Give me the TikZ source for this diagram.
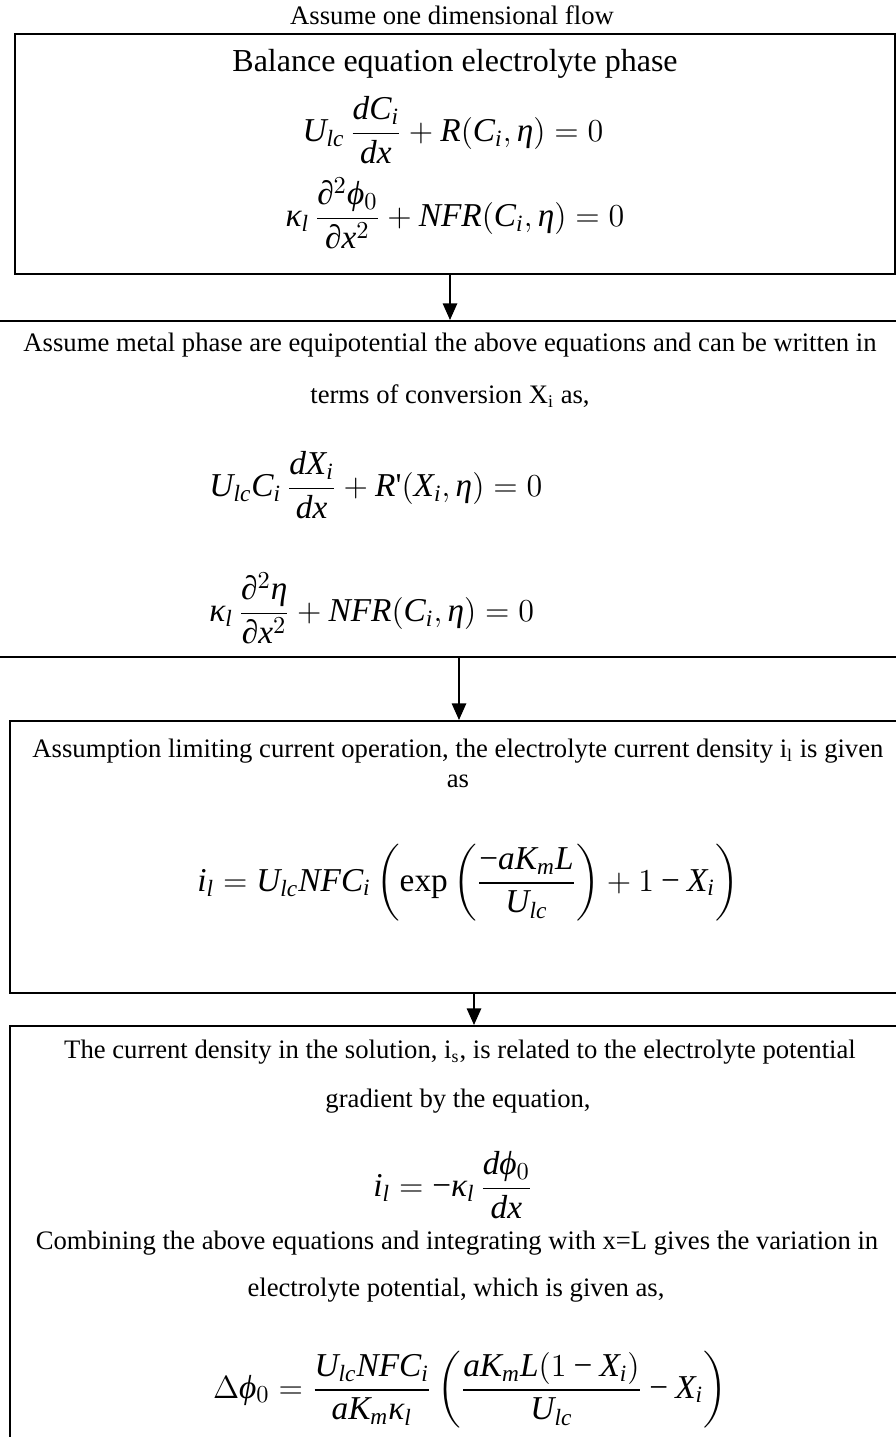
\documentclass[tikz,border=0pt]{standalone}
\usepackage{amsmath}
\usepackage{fontspec}
\setmainfont{Liberation Serif}
\usetikzlibrary{arrows.meta,positioning,calc}

% Times-like letters and digits in math
\ExplSyntaxOn
\fontspec_set_family:Nnn \l_tmpa_tl {} {Liberation~Serif}
\cs_new:Npn \mathfamdecl #1 {
  \DeclareSymbolFont{timesletters}{TU}{#1}{m}{it}
  \DeclareSymbolFont{timesupright}{TU}{#1}{m}{n}
}
\exp_args:NV \mathfamdecl \l_tmpa_tl
\ExplSyntaxOff
\makeatletter
\@tfor\@ltr:=abcdefghijklmnopqrstuvwxyzABCDEFGHIJKLMNOPQRSTUVWXYZ\do{%
  \edef\@tmpdecl{\noexpand\DeclareMathSymbol{\@ltr}{\noexpand\mathalpha}{timesletters}{`\@ltr}}%
  \@tmpdecl}
\@tfor\@ltr:=0123456789\do{%
  \edef\@tmpdecl{\noexpand\DeclareMathSymbol{\@ltr}{\noexpand\mathalpha}{timesupright}{`\@ltr}}%
  \@tmpdecl}
\makeatother
\DeclareMathSymbol{+}{\mathbin}{timesupright}{`+}
\DeclareMathSymbol{=}{\mathrel}{timesupright}{`=}
\Umathcode`-="2 \symtimesupright "2212
\Umathchardef\eta="0 \symtimesletters "03B7
\Umathchardef\kappa="0 \symtimesletters "03BA
\Umathchardef\phi="0 \symtimesletters "03D5
\Umathchardef\partial="0 \symtimesletters "2202
\Umathchardef\Delta="0 \symtimesupright "0394

\begin{document}
\begin{tikzpicture}[
  x=0.45pt, y=-0.45pt,
  >={Triangle[width=6.5pt,length=7.5pt]},
  every node/.style={font=\fontsize{12}{14}\selectfont, inner sep=0pt},
  box/.style={draw, line width=0.9pt, rectangle},
  eqn/.style={font=\fontsize{15}{17}\selectfont},
  arr/.style={->, line width=0.7pt}
]
\useasboundingbox (0,0) rectangle (896,1437);
\clip (0,0) rectangle (896,1437);

\node (flow) at (452,15) {Assume one dimensional flow};

% boxes
\node[box, minimum width=396pt, minimum height=108pt] (balance) at (455,154) {};
\node[box, minimum width=423pt, minimum height=151.2pt] (metal) at (448,489) {};
\node[box, minimum width=405pt, minimum height=122.4pt] (limit) at (460,857) {};
\node[box, minimum width=405pt, minimum height=195.3pt] (current) at (460,1243) {};

% balance equations
\node[font=\fontsize{14.4}{17}\selectfont] (balT) at (455,64) {Balance equation electrolyte phase};
\node[eqn] (balA) at (453,130) {$\displaystyle U_{lc}\,\frac{dC_i}{dx}+R(C_i,\eta)=0$};
\node[eqn] (balB) at (455,213) {$\displaystyle \kappa_l\,\frac{\partial^2\phi_0}{\partial x^2}+NFR(C_i,\eta)=0$};

% metal phase
\node (metT) at (450,345) {Assume metal phase are equipotential the above equations and can be written in};
\node (metU) at (450,396) {terms of conversion X\textsubscript{i} as,};
\node[eqn, anchor=west] (metA) at (209,485) {$\displaystyle U_{lc}C_i\,\frac{dX_i}{dx}+R\textrm{\textquotesingle}(X_i,\eta)=0$};
\node[eqn, anchor=west] (metB) at (209,608) {$\displaystyle \kappa_l\,\frac{\partial^2\eta}{\partial x^2}+NFR(C_i,\eta)=0$};

% limiting current
\node (limT) at (458,751) {Assumption limiting current operation, the electrolyte current density i\textsubscript{l} is given};
\node (limU) at (458,781) {as};
\node[eqn] (limA) at (468,883) {$\displaystyle i_l=U_{lc}NFC_i\left(\textrm{exp}\left(\frac{-aK_mL}{U_{lc}}\right)+1-X_i\right)$};

% current density
\node (curT) at (460,1052) {The current density in the solution, i\textsubscript{s}, is related to the electrolyte potential};
\node (curU) at (458,1101) {gradient by the equation,};
\node[eqn] (curA) at (453,1185) {$\displaystyle i_l=-\kappa_l\,\frac{d\phi_0}{dx}$};
\node (curV) at (457,1243) {Combining the above equations and integrating with x=L gives the variation in};
\node (curW) at (456,1290) {electrolyte potential, which is given as,};
\node[eqn] (curB) at (470,1390) {$\displaystyle \Delta\phi_0=\frac{U_{lc}NFC_i}{aK_m\kappa_l}\left(\frac{aK_mL(1-X_i)}{U_{lc}}-X_i\right)$};

\draw[arr] ([xshift=-2.25pt]balance.south) -- ([xshift=-2.25pt]balance.south |- metal.north);
\draw[arr] ([xshift=4.95pt]metal.south) -- ([xshift=4.95pt]metal.south |- limit.north);
\draw[arr] ([xshift=6.3pt]limit.south) -- ([xshift=6.3pt]limit.south |- current.north);
\end{tikzpicture}
\end{document}
